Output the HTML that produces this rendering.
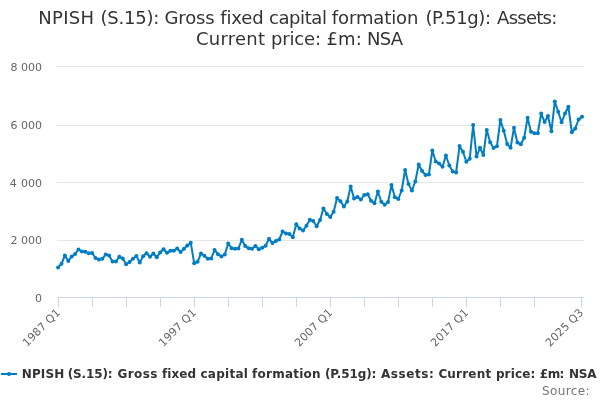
<!DOCTYPE html>
<html><head><meta charset="utf-8"><title>chart</title>
<style>
html,body{margin:0;padding:0;background:#fff;}
svg{display:block;font-family:"DejaVu Sans","Liberation Sans",sans-serif;font-variant-ligatures:none;}
</style></head><body>
<svg width="600" height="400" viewBox="0 0 600 400">
<rect x="0" y="0" width="600" height="400" fill="#FFFFFF"/>
<g><path d="M 57 66.5 L 584 66.5" stroke="#E6E6E6" stroke-width="1"/><path d="M 57 125.5 L 584 125.5" stroke="#E6E6E6" stroke-width="1"/><path d="M 57 182.5 L 584 182.5" stroke="#E6E6E6" stroke-width="1"/><path d="M 57 240.5 L 584 240.5" stroke="#E6E6E6" stroke-width="1"/></g>
<path d="M 57 297.5 L 584 297.5" stroke="#CCD6EB" stroke-width="1"/>
<g><path d="M 58.5 297.5 L 58.5 307" stroke="#CCD6EB" stroke-width="1"/><path d="M 92.5 297.5 L 92.5 307" stroke="#CCD6EB" stroke-width="1"/><path d="M 126.5 297.5 L 126.5 307" stroke="#CCD6EB" stroke-width="1"/><path d="M 160.5 297.5 L 160.5 307" stroke="#CCD6EB" stroke-width="1"/><path d="M 194.5 297.5 L 194.5 307" stroke="#CCD6EB" stroke-width="1"/><path d="M 228.5 297.5 L 228.5 307" stroke="#CCD6EB" stroke-width="1"/><path d="M 262.5 297.5 L 262.5 307" stroke="#CCD6EB" stroke-width="1"/><path d="M 296.5 297.5 L 296.5 307" stroke="#CCD6EB" stroke-width="1"/><path d="M 330.5 297.5 L 330.5 307" stroke="#CCD6EB" stroke-width="1"/><path d="M 364.5 297.5 L 364.5 307" stroke="#CCD6EB" stroke-width="1"/><path d="M 398.5 297.5 L 398.5 307" stroke="#CCD6EB" stroke-width="1"/><path d="M 432.5 297.5 L 432.5 307" stroke="#CCD6EB" stroke-width="1"/><path d="M 466.5 297.5 L 466.5 307" stroke="#CCD6EB" stroke-width="1"/><path d="M 500.5 297.5 L 500.5 307" stroke="#CCD6EB" stroke-width="1"/><path d="M 534.5 297.5 L 534.5 307" stroke="#CCD6EB" stroke-width="1"/><path d="M 581.5 297.5 L 581.5 307" stroke="#CCD6EB" stroke-width="1"/></g>
<path d="M 58.1 267.5 L 61.5 263.8 L 64.9 255.5 L 68.31 260.9 L 71.71 256.5 L 75.11 254 L 78.51 249.5 L 81.91 251.5 L 85.32 251.7 L 88.72 253.2 L 92.12 253 L 95.52 258 L 98.92 259.5 L 102.33 258.8 L 105.73 254.5 L 109.13 255.5 L 112.53 261.4 L 115.93 261.5 L 119.34 256.8 L 122.74 258.5 L 126.14 264.2 L 129.54 262 L 132.94 258.8 L 136.35 256 L 139.75 262.5 L 143.15 256.3 L 146.55 253.2 L 149.95 256.8 L 153.36 253.5 L 156.76 257.2 L 160.16 252.5 L 163.56 249.2 L 166.96 252.8 L 170.37 250.8 L 173.77 250.8 L 177.17 248.5 L 180.57 252 L 183.97 248.8 L 187.38 245.5 L 190.78 242.8 L 194.18 263.2 L 197.58 261.8 L 200.98 253.5 L 204.39 255.8 L 207.79 258.8 L 211.19 258.5 L 214.59 250 L 217.99 254.2 L 221.4 256.4 L 224.8 254.5 L 228.2 243.5 L 231.6 248.2 L 235.0 248.8 L 238.41 248.5 L 241.81 239.8 L 245.21 246 L 248.61 248.2 L 252.01 248.8 L 255.42 246 L 258.82 249.2 L 262.22 247.8 L 265.62 245.8 L 269.02 238.8 L 272.43 243 L 275.83 241 L 279.23 239.5 L 282.63 231.5 L 286.03 233.5 L 289.44 234 L 292.84 237.2 L 296.24 224.3 L 299.64 228.5 L 303.04 230.5 L 306.45 225.8 L 309.85 219.8 L 313.25 221 L 316.65 226.2 L 320.05 220 L 323.46 208.5 L 326.86 214.1 L 330.26 216.9 L 333.66 211.8 L 337.06 198 L 340.47 201.2 L 343.87 206.5 L 347.27 201.5 L 350.67 186.5 L 354.07 198.5 L 357.48 197 L 360.88 199.5 L 364.28 195 L 367.68 194.2 L 371.08 200.8 L 374.49 203.2 L 377.89 191.5 L 381.29 201.8 L 384.69 204.8 L 388.09 202 L 391.5 185 L 394.9 197.2 L 398.3 199 L 401.7 190.5 L 405.1 170 L 408.51 184.1 L 411.91 190.5 L 415.31 181.5 L 418.71 164.5 L 422.11 171 L 425.52 175 L 428.92 174.5 L 432.32 150.5 L 435.72 161.5 L 439.12 163.5 L 442.53 166.8 L 445.93 155.5 L 449.33 165.5 L 452.73 171.5 L 456.13 172.5 L 459.54 145.9 L 462.94 151.8 L 466.34 161.8 L 469.74 158.8 L 473.14 125.0 L 476.55 156.5 L 479.95 147.8 L 483.35 155 L 486.75 129.9 L 490.15 142.3 L 493.56 148 L 496.96 146.2 L 500.36 120 L 503.76 130.8 L 507.16 144 L 510.57 147.8 L 513.97 127.8 L 517.37 142.5 L 520.77 144.2 L 524.17 137.8 L 527.58 117.8 L 530.98 131.8 L 534.38 133.2 L 537.78 133.2 L 541.18 113.5 L 544.59 122.1 L 547.99 116 L 551.39 131.3 L 554.79 101.5 L 558.19 111.8 L 561.6 122.3 L 565.0 113.5 L 568.4 106.8 L 571.8 132.2 L 575.2 128.5 L 578.61 119.5 L 582.01 116.8" fill="none" stroke="#007DC3" stroke-width="2" stroke-linejoin="round" stroke-linecap="round"/>
<g fill="#007DC3"><circle cx="58.1" cy="267.5" r="2"/><circle cx="61.5" cy="263.8" r="2"/><circle cx="64.9" cy="255.5" r="2"/><circle cx="68.31" cy="260.9" r="2"/><circle cx="71.71" cy="256.5" r="2"/><circle cx="75.11" cy="254" r="2"/><circle cx="78.51" cy="249.5" r="2"/><circle cx="81.91" cy="251.5" r="2"/><circle cx="85.32" cy="251.7" r="2"/><circle cx="88.72" cy="253.2" r="2"/><circle cx="92.12" cy="253" r="2"/><circle cx="95.52" cy="258" r="2"/><circle cx="98.92" cy="259.5" r="2"/><circle cx="102.33" cy="258.8" r="2"/><circle cx="105.73" cy="254.5" r="2"/><circle cx="109.13" cy="255.5" r="2"/><circle cx="112.53" cy="261.4" r="2"/><circle cx="115.93" cy="261.5" r="2"/><circle cx="119.34" cy="256.8" r="2"/><circle cx="122.74" cy="258.5" r="2"/><circle cx="126.14" cy="264.2" r="2"/><circle cx="129.54" cy="262" r="2"/><circle cx="132.94" cy="258.8" r="2"/><circle cx="136.35" cy="256" r="2"/><circle cx="139.75" cy="262.5" r="2"/><circle cx="143.15" cy="256.3" r="2"/><circle cx="146.55" cy="253.2" r="2"/><circle cx="149.95" cy="256.8" r="2"/><circle cx="153.36" cy="253.5" r="2"/><circle cx="156.76" cy="257.2" r="2"/><circle cx="160.16" cy="252.5" r="2"/><circle cx="163.56" cy="249.2" r="2"/><circle cx="166.96" cy="252.8" r="2"/><circle cx="170.37" cy="250.8" r="2"/><circle cx="173.77" cy="250.8" r="2"/><circle cx="177.17" cy="248.5" r="2"/><circle cx="180.57" cy="252" r="2"/><circle cx="183.97" cy="248.8" r="2"/><circle cx="187.38" cy="245.5" r="2"/><circle cx="190.78" cy="242.8" r="2"/><circle cx="194.18" cy="263.2" r="2"/><circle cx="197.58" cy="261.8" r="2"/><circle cx="200.98" cy="253.5" r="2"/><circle cx="204.39" cy="255.8" r="2"/><circle cx="207.79" cy="258.8" r="2"/><circle cx="211.19" cy="258.5" r="2"/><circle cx="214.59" cy="250" r="2"/><circle cx="217.99" cy="254.2" r="2"/><circle cx="221.4" cy="256.4" r="2"/><circle cx="224.8" cy="254.5" r="2"/><circle cx="228.2" cy="243.5" r="2"/><circle cx="231.6" cy="248.2" r="2"/><circle cx="235.0" cy="248.8" r="2"/><circle cx="238.41" cy="248.5" r="2"/><circle cx="241.81" cy="239.8" r="2"/><circle cx="245.21" cy="246" r="2"/><circle cx="248.61" cy="248.2" r="2"/><circle cx="252.01" cy="248.8" r="2"/><circle cx="255.42" cy="246" r="2"/><circle cx="258.82" cy="249.2" r="2"/><circle cx="262.22" cy="247.8" r="2"/><circle cx="265.62" cy="245.8" r="2"/><circle cx="269.02" cy="238.8" r="2"/><circle cx="272.43" cy="243" r="2"/><circle cx="275.83" cy="241" r="2"/><circle cx="279.23" cy="239.5" r="2"/><circle cx="282.63" cy="231.5" r="2"/><circle cx="286.03" cy="233.5" r="2"/><circle cx="289.44" cy="234" r="2"/><circle cx="292.84" cy="237.2" r="2"/><circle cx="296.24" cy="224.3" r="2"/><circle cx="299.64" cy="228.5" r="2"/><circle cx="303.04" cy="230.5" r="2"/><circle cx="306.45" cy="225.8" r="2"/><circle cx="309.85" cy="219.8" r="2"/><circle cx="313.25" cy="221" r="2"/><circle cx="316.65" cy="226.2" r="2"/><circle cx="320.05" cy="220" r="2"/><circle cx="323.46" cy="208.5" r="2"/><circle cx="326.86" cy="214.1" r="2"/><circle cx="330.26" cy="216.9" r="2"/><circle cx="333.66" cy="211.8" r="2"/><circle cx="337.06" cy="198" r="2"/><circle cx="340.47" cy="201.2" r="2"/><circle cx="343.87" cy="206.5" r="2"/><circle cx="347.27" cy="201.5" r="2"/><circle cx="350.67" cy="186.5" r="2"/><circle cx="354.07" cy="198.5" r="2"/><circle cx="357.48" cy="197" r="2"/><circle cx="360.88" cy="199.5" r="2"/><circle cx="364.28" cy="195" r="2"/><circle cx="367.68" cy="194.2" r="2"/><circle cx="371.08" cy="200.8" r="2"/><circle cx="374.49" cy="203.2" r="2"/><circle cx="377.89" cy="191.5" r="2"/><circle cx="381.29" cy="201.8" r="2"/><circle cx="384.69" cy="204.8" r="2"/><circle cx="388.09" cy="202" r="2"/><circle cx="391.5" cy="185" r="2"/><circle cx="394.9" cy="197.2" r="2"/><circle cx="398.3" cy="199" r="2"/><circle cx="401.7" cy="190.5" r="2"/><circle cx="405.1" cy="170" r="2"/><circle cx="408.51" cy="184.1" r="2"/><circle cx="411.91" cy="190.5" r="2"/><circle cx="415.31" cy="181.5" r="2"/><circle cx="418.71" cy="164.5" r="2"/><circle cx="422.11" cy="171" r="2"/><circle cx="425.52" cy="175" r="2"/><circle cx="428.92" cy="174.5" r="2"/><circle cx="432.32" cy="150.5" r="2"/><circle cx="435.72" cy="161.5" r="2"/><circle cx="439.12" cy="163.5" r="2"/><circle cx="442.53" cy="166.8" r="2"/><circle cx="445.93" cy="155.5" r="2"/><circle cx="449.33" cy="165.5" r="2"/><circle cx="452.73" cy="171.5" r="2"/><circle cx="456.13" cy="172.5" r="2"/><circle cx="459.54" cy="145.9" r="2"/><circle cx="462.94" cy="151.8" r="2"/><circle cx="466.34" cy="161.8" r="2"/><circle cx="469.74" cy="158.8" r="2"/><circle cx="473.14" cy="125.0" r="2"/><circle cx="476.55" cy="156.5" r="2"/><circle cx="479.95" cy="147.8" r="2"/><circle cx="483.35" cy="155" r="2"/><circle cx="486.75" cy="129.9" r="2"/><circle cx="490.15" cy="142.3" r="2"/><circle cx="493.56" cy="148" r="2"/><circle cx="496.96" cy="146.2" r="2"/><circle cx="500.36" cy="120" r="2"/><circle cx="503.76" cy="130.8" r="2"/><circle cx="507.16" cy="144" r="2"/><circle cx="510.57" cy="147.8" r="2"/><circle cx="513.97" cy="127.8" r="2"/><circle cx="517.37" cy="142.5" r="2"/><circle cx="520.77" cy="144.2" r="2"/><circle cx="524.17" cy="137.8" r="2"/><circle cx="527.58" cy="117.8" r="2"/><circle cx="530.98" cy="131.8" r="2"/><circle cx="534.38" cy="133.2" r="2"/><circle cx="537.78" cy="133.2" r="2"/><circle cx="541.18" cy="113.5" r="2"/><circle cx="544.59" cy="122.1" r="2"/><circle cx="547.99" cy="116" r="2"/><circle cx="551.39" cy="131.3" r="2"/><circle cx="554.79" cy="101.5" r="2"/><circle cx="558.19" cy="111.8" r="2"/><circle cx="561.6" cy="122.3" r="2"/><circle cx="565.0" cy="113.5" r="2"/><circle cx="568.4" cy="106.8" r="2"/><circle cx="571.8" cy="132.2" r="2"/><circle cx="575.2" cy="128.5" r="2"/><circle cx="578.61" cy="119.5" r="2"/><circle cx="582.01" cy="116.8" r="2"/></g>
<text y="24" font-size="18" fill="#333333"><tspan x="38.35" letter-spacing="0.258">NPISH </tspan><tspan x="100.40" letter-spacing="-0.212">(S.15): </tspan><tspan x="164.60" letter-spacing="-0.182">Gross </tspan><tspan x="220.22" letter-spacing="-0.145">fixed </tspan><tspan x="269.00" letter-spacing="-0.417">capital </tspan><tspan x="331.87" letter-spacing="-0.121">formation </tspan><tspan x="425.40" letter-spacing="-0.360">(P.51g): </tspan><tspan x="497.08" letter-spacing="-0.733">Assets: </tspan></text>
<text y="45" font-size="18" fill="#333333"><tspan x="195.90" letter-spacing="0.267">Current </tspan><tspan x="270.88" letter-spacing="-0.124">price: </tspan><tspan x="326.58" letter-spacing="0.035">£m: </tspan><tspan x="367.05" letter-spacing="-0.760">NSA </tspan></text>
<g font-size="11" fill="#666666"><text x="42" y="71" text-anchor="end">8 000</text><text x="42" y="129" text-anchor="end">6 000</text><text x="42" y="187" text-anchor="end"><tspan>4</tspan><tspan dx="0.8"> 000</tspan></text><text x="42" y="244" text-anchor="end">2 000</text><text x="42" y="302" text-anchor="end">0</text></g>
<g font-size="11" fill="#666666" letter-spacing="0.12"><text x="61.0" y="313.2" text-anchor="end" transform="rotate(-45 61.0 313.2)">1987 Q1</text><text x="197.1" y="313.2" text-anchor="end" transform="rotate(-45 197.1 313.2)">1997 Q1</text><text x="333.2" y="313.2" text-anchor="end" transform="rotate(-45 333.2 313.2)">2007 Q1</text><text x="469.2" y="313.2" text-anchor="end" transform="rotate(-45 469.2 313.2)">2017 Q1</text><text x="584.0" y="313.2" text-anchor="end" transform="rotate(-45 584.0 313.2)">2025 Q3</text></g>
<path d="M 1 374 L 17 374" stroke="#007DC3" stroke-width="2"/>
<circle cx="9" cy="374" r="2" fill="#007DC3"/>
<text y="378" font-size="12" font-weight="bold" fill="#333333"><tspan x="21.78" letter-spacing="0.113">NPISH </tspan><tspan x="67.75" letter-spacing="-0.147">(S.15): </tspan><tspan x="117.48" letter-spacing="0.420">Gross </tspan><tspan x="162.05" letter-spacing="0.082">fixed </tspan><tspan x="200.50" letter-spacing="0.253">capital </tspan><tspan x="252.05" letter-spacing="0.244">formation </tspan><tspan x="325.00" letter-spacing="-0.126">(P.51g): </tspan><tspan x="380.98" letter-spacing="0.567">Assets: </tspan><tspan x="438.38" letter-spacing="0.192">Current </tspan><tspan x="495.90" letter-spacing="0.144">price: </tspan><tspan x="539.85" letter-spacing="-0.560">£m: </tspan><tspan x="568.88" letter-spacing="-0.125">NSA </tspan></text>
<text y="395" font-size="12" fill="#757575"><tspan x="542.05" letter-spacing="0.363">Source: </tspan></text>
</svg>
</body></html>
